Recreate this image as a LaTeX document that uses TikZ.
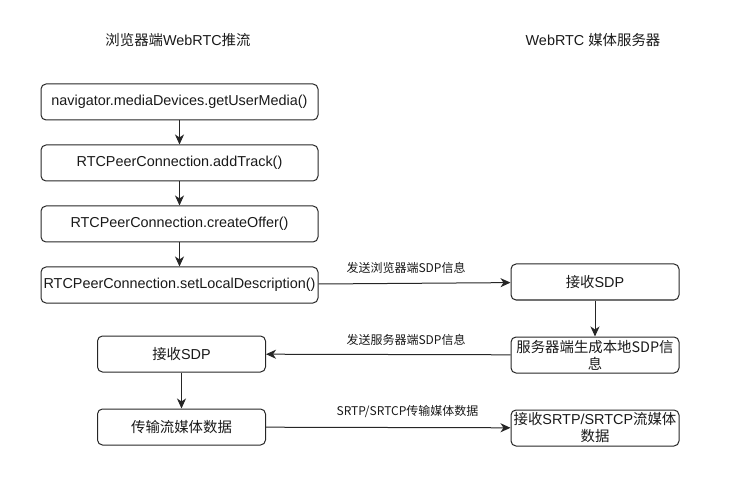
\documentclass[tikz,border=0pt]{standalone}
\usepackage{fontspec}
\setmainfont{Liberation Sans}
\newfontfamily\cjk{Noto Sans CJK SC}
\usetikzlibrary{
    positioning,  % Relative positioning
    arrows.meta   % Modern arrow tips
}

\tikzset{
    stepbox/.style={draw=black!85, line width=1pt, rounded corners=5pt,
        minimum height=36pt, inner sep=1pt, align=center, text=black!90,
        font=\fontsize{14.4}{17}\selectfont},
    widebox/.style={stepbox, minimum width=277pt},
    smallbox/.style={stepbox, minimum width=168pt},
    flow/.style={draw=black!85, line width=1pt,
        -{Stealth[length=10pt,width=9pt,inset=3pt]}},
    msg/.style={text=black!90, font=\fontsize{12}{14}\selectfont},
    lanetitle/.style={text=black!90, font=\fontsize{14.4}{17}\selectfont}
}

\begin{document}
\begin{tikzpicture}[x=1pt,y=-1pt]
    \useasboundingbox (0,0) rectangle (742,481);

    % lane titles
    \node[lanetitle] (browser) at (178,40) {{\cjk 浏览器端}WebRTC{\cjk 推流}};
    \node[lanetitle] (server) at (593,40) {WebRTC {\cjk 媒体服务器}};

    % browser side
    \node[widebox] (getmedia) at (179.5,102) {navigator.mediaDevices.getUserMedia()};
    \node[widebox, below=24pt of getmedia] (addtrack) {RTCPeerConnection.addTrack()};
    \node[widebox, below=24pt of addtrack] (offer) {RTCPeerConnection.createOffer()};
    \node[widebox, below=24pt of offer] (setlocal) {RTCPeerConnection.setLocalDescription()};
    \node[smallbox] (recvsdp) at (181.5,354) {{\cjk 接收}SDP};
    \node[smallbox, below=36pt of recvsdp] (sendmedia) {\cjk 传输流媒体数据};

    % server side
    \node[smallbox] (srvrecv) at (595,282) {{\cjk 接收}SDP};
    \node[smallbox, below=36pt of srvrecv] (srvsdp) {\cjk 服务器端生成本地SDP信\\\cjk 息};
    \node[smallbox, below=36pt of srvsdp] (srvmedia) {{\cjk 接收}SRTP/SRTCP{\cjk 流媒体}\\\cjk 数据};

    % messages
    \node[msg] (m1) at (406,268) {\cjk 发送浏览器端SDP信息};
    \node[msg] (m2) at (406,340) {\cjk 发送服务器端SDP信息};
    \node[msg] (m3) at (407.5,412) {\cjk SRTP/SRTCP传输媒体数据};

    \draw[flow] (getmedia) -- (addtrack);
    \draw[flow] (addtrack) -- (offer);
    \draw[flow] (offer) -- (setlocal);
    \draw[flow] (setlocal) -- (srvrecv);
    \draw[flow] (srvrecv) -- (srvsdp);
    \draw[flow] (srvsdp) -- (recvsdp);
    \draw[flow] (recvsdp) -- (sendmedia);
    \draw[flow] (sendmedia) -- (srvmedia);
\end{tikzpicture}
\end{document}
